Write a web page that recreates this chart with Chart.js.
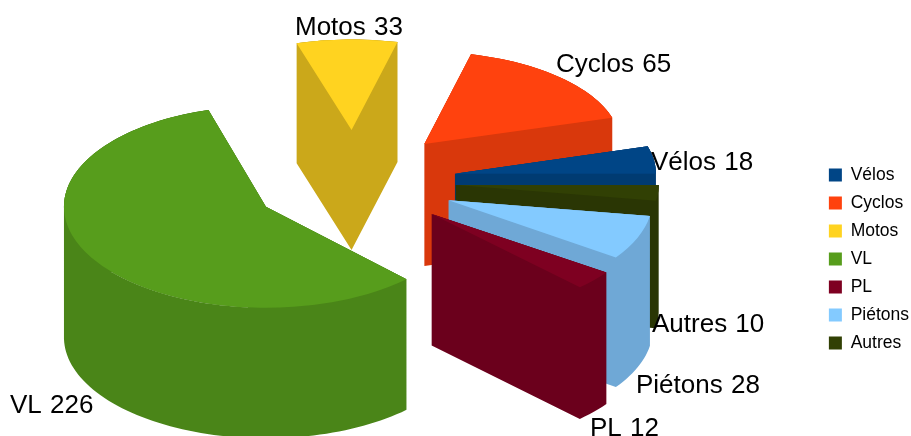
<!DOCTYPE html>
<html>
<head>
<meta charset="utf-8">
<title>Accidents par catégorie</title>
<script src="https://cdn.jsdelivr.net/npm/chart.js@4"></script>
<style>
  html, body { margin: 0; padding: 0; background: #fff; }
  #wrap { width: 911px; height: 436px; }
</style>
</head>
<body>
<div id="wrap"><canvas id="pie3d" width="911" height="436"></canvas></div>
<script>
// Chart data, in legend order
var categories = ['Vélos', 'Cyclos', 'Motos', 'VL', 'PL', 'Piétons', 'Autres'];
var counts = [18, 65, 33, 226, 12, 28, 10];
var topColors = ['#004586', '#ff420e', '#ffd320', '#579d1c', '#7e0021', '#83caff', '#314004'];
var wallColors = ['#003b72', '#d9380c', '#cba81a', '#4a8518', '#6b001c', '#6fa8d6', '#2a3604'];

// Back to front, so nearer slices paint over farther ones
var paintOrder = [2, 3, 1, 0, 6, 5, 4];

// Left end and baseline of each value label
var labelSpots = [[651, 170], [556, 72], [295, 35], [10, 413], [590, 436], [636, 393], [652, 332]];

// Horizontal radius of each slice, the source picture has some perspective
var widthRadii = [201, 196, 193, 202, 213, 204, 203];

// Projection of the flat pie onto the page
var view = { cx: 354, cy: 181, radius: 195, persp: 14, squash: 0.5, explode: 102, depth: 127, depthPersp: 7 };

function midAngle(arc) {
  return (arc.startAngle + arc.endAngle) / 2;
}

// Page position of a point of the slice, given in polar form
function project(arc, i, angle, r) {
  var mid = midAngle(arc);
  var ry = view.radius - view.persp * Math.sin(mid);
  return {
    x: view.cx + Math.cos(mid) * view.explode + Math.cos(angle) * r * widthRadii[i],
    y: view.cy - (Math.sin(mid) * view.explode + Math.sin(angle) * r * ry) * view.squash
  };
}

// Moves the context so that the library's arc lands where this slice belongs
function placeSlice(ctx, arc, i) {
  var mid = midAngle(arc);
  var ry = view.radius - view.persp * Math.sin(mid);
  var apex = project(arc, i, 0, 0);
  ctx.translate(apex.x, apex.y);
  ctx.scale(widthRadii[i] / arc.outerRadius, -ry / arc.outerRadius * view.squash);
  ctx.translate(-arc.x, -arc.y);
}

// One path of quads, one per outline edge, all wound the same way
function drawWalls(ctx, arc, i) {
  var height = view.depth - view.depthPersp * Math.sin(midAngle(arc));
  var outline = [project(arc, i, 0, 0)];
  var steps = Math.ceil((arc.endAngle - arc.startAngle) * 30);
  for (var s = 0; s <= steps; s++) {
    outline.push(project(arc, i, arc.startAngle + (arc.endAngle - arc.startAngle) * s / steps, 1));
  }
  ctx.fillStyle = wallColors[i];

  // Underlay, keeps the top face edge from blending with the white page
  ctx.beginPath();
  outline.forEach(function(p) {
    ctx.lineTo(p.x, p.y);
  });
  ctx.closePath();
  ctx.fill();

  ctx.beginPath();
  outline.forEach(function(p, n) {
    var q = outline[(n + 1) % outline.length];
    var a = p.x <= q.x ? p : q;
    var b = p.x <= q.x ? q : p;
    ctx.moveTo(a.x, a.y);
    ctx.lineTo(b.x, b.y);
    ctx.lineTo(b.x, b.y + height);
    ctx.lineTo(a.x, a.y + height);
    ctx.closePath();
  });
  ctx.fill();
}

var pie3d = {
  id: 'pie3d',
  beforeDatasetDraw: function(chart, args) {
    var ctx = chart.ctx;
    var arcs = args.meta.data;
    paintOrder.forEach(function(i) {
      drawWalls(ctx, arcs[i], i);
      ctx.save();
      placeSlice(ctx, arcs[i], i);
      arcs[i].draw(ctx);
      ctx.restore();
    });
    return false;
  },
  afterDraw: function(chart) {
    var ctx = chart.ctx;
    ctx.save();
    ctx.fillStyle = '#000';
    ctx.font = '26px "Liberation Sans"';
    ctx.wordSpacing = '1px';
    ctx.textBaseline = 'alphabetic';
    categories.forEach(function(name, i) {
      ctx.fillText(name + ' ' + counts[i], labelSpots[i][0], labelSpots[i][1]);
    });
    ctx.restore();
  }
};

Chart.defaults.font.family = '"Liberation Sans"';

new Chart(document.getElementById('pie3d').getContext('2d'), {
  type: 'pie',
  data: {
    labels: categories,
    datasets: [{
      data: counts,
      backgroundColor: topColors,
      borderWidth: 0
    }]
  },
  options: {
    responsive: false,
    animation: false,
    rotation: 90,
    layout: { padding: { top: 82, right: -8 } },
    plugins: {
      tooltip: { enabled: false },
      legend: {
        position: 'right',
        labels: {
          color: '#000',
          boxWidth: 13,
          boxHeight: 13,
          padding: 10.5,
          font: { size: 17.5 }
        }
      }
    }
  },
  plugins: [pie3d]
});
</script>
</body>
</html>
